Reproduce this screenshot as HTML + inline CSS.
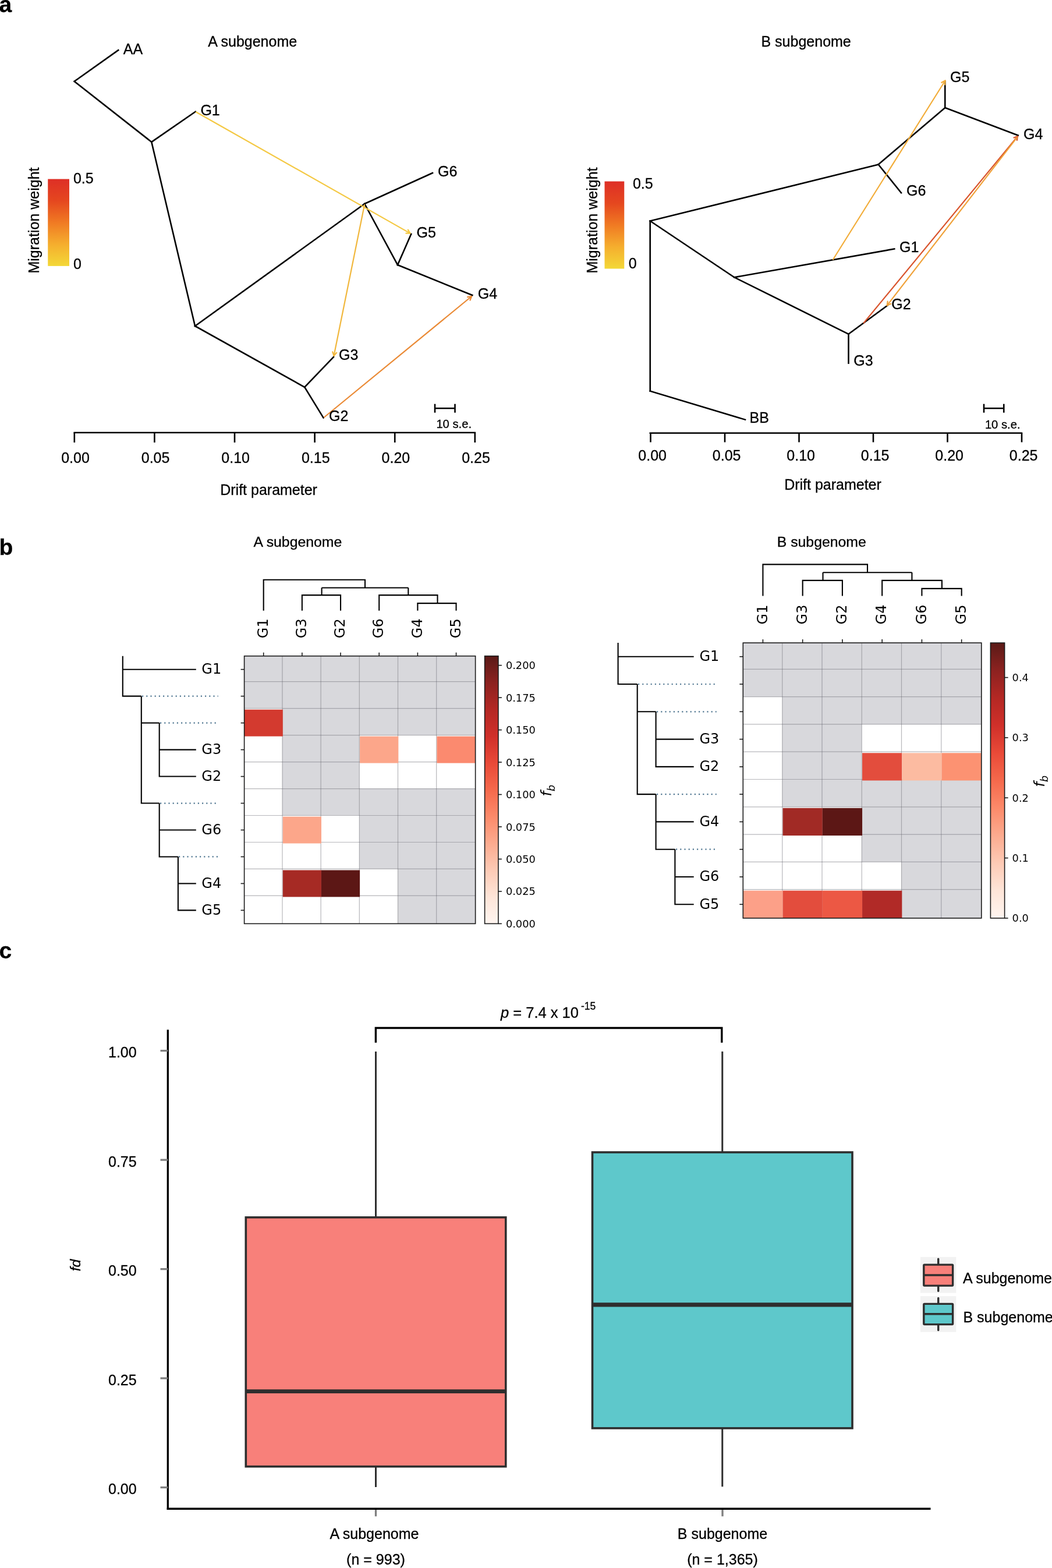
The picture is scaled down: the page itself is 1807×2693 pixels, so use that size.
<!DOCTYPE html><html><head><meta charset="utf-8"><title>Figure</title><style>html,body{margin:0;padding:0;background:#fff;overflow:hidden;}svg{display:block;}</style></head><body>
<svg width="1807" height="2693" viewBox="0 0 1807 2693">
<defs><linearGradient id="mig" x1="0" y1="1" x2="0" y2="0"><stop offset="0" stop-color="#F3D837"/><stop offset="0.25" stop-color="#F5AE2E"/><stop offset="0.5" stop-color="#F07A23"/><stop offset="0.75" stop-color="#E5471F"/><stop offset="1" stop-color="#DE2F26"/></linearGradient><linearGradient id="reds" x1="0" y1="1" x2="0" y2="0"><stop offset="0" stop-color="#fff5f0"/><stop offset="0.1" stop-color="#fee5d8"/><stop offset="0.2" stop-color="#fdcab5"/><stop offset="0.3" stop-color="#fcab8f"/><stop offset="0.4" stop-color="#fc8a6a"/><stop offset="0.5" stop-color="#f5694c"/><stop offset="0.6" stop-color="#e94a38"/><stop offset="0.7" stop-color="#d0302a"/><stop offset="0.8" stop-color="#b42824"/><stop offset="0.9" stop-color="#8c2220"/><stop offset="1" stop-color="#5a1a17"/></linearGradient></defs>
<rect width="1807" height="2693" fill="#fff"/>
<text x="-1.50" y="20.80" style="font-family:'Liberation Sans',Arial,sans-serif;stroke:#000;stroke-width:0.3px;font-size:39px;font-weight:bold" text-anchor="start" >a</text>
<text x="-1.50" y="953.30" style="font-family:'Liberation Sans',Arial,sans-serif;stroke:#000;stroke-width:0.3px;font-size:39px;font-weight:bold" text-anchor="start" >b</text>
<text x="-1.50" y="1646.20" style="font-family:'Liberation Sans',Arial,sans-serif;stroke:#000;stroke-width:0.3px;font-size:39px;font-weight:bold" text-anchor="start" >c</text>
<line x1="127.70" y1="139.80" x2="203.20" y2="86.10" stroke="#000" stroke-width="2.6" stroke-linecap="square" />
<line x1="127.70" y1="139.80" x2="260.30" y2="243.90" stroke="#000" stroke-width="2.6" stroke-linecap="square" />
<line x1="260.30" y1="243.90" x2="335.80" y2="191.70" stroke="#000" stroke-width="2.6" stroke-linecap="square" />
<line x1="260.30" y1="243.90" x2="335.00" y2="560.00" stroke="#000" stroke-width="2.6" stroke-linecap="square" />
<line x1="335.00" y1="560.00" x2="626.25" y2="350.00" stroke="#000" stroke-width="2.6" stroke-linecap="square" />
<line x1="626.25" y1="350.00" x2="743.00" y2="297.00" stroke="#000" stroke-width="2.6" stroke-linecap="square" />
<line x1="626.25" y1="350.00" x2="683.00" y2="455.00" stroke="#000" stroke-width="2.6" stroke-linecap="square" />
<line x1="683.00" y1="455.00" x2="706.25" y2="402.00" stroke="#000" stroke-width="2.6" stroke-linecap="square" />
<line x1="683.00" y1="455.00" x2="811.25" y2="507.00" stroke="#000" stroke-width="2.6" stroke-linecap="square" />
<line x1="335.00" y1="560.00" x2="523.25" y2="665.00" stroke="#000" stroke-width="2.6" stroke-linecap="square" />
<line x1="523.25" y1="665.00" x2="573.00" y2="613.00" stroke="#000" stroke-width="2.6" stroke-linecap="square" />
<line x1="523.25" y1="665.00" x2="555.50" y2="717.50" stroke="#000" stroke-width="2.6" stroke-linecap="square" />
<line x1="337.00" y1="192.50" x2="704.40" y2="400.60" stroke="#F4C842" stroke-width="2.2" stroke-linecap="round" />
<line x1="704.40" y1="400.60" x2="700.85" y2="394.57" stroke="#F4C842" stroke-width="2.2" stroke-linecap="round" />
<line x1="704.40" y1="400.60" x2="697.40" y2="400.66" stroke="#F4C842" stroke-width="2.2" stroke-linecap="round" />
<line x1="626.00" y1="352.00" x2="573.50" y2="611.00" stroke="#F1B73C" stroke-width="2.2" stroke-linecap="round" />
<line x1="573.50" y1="611.00" x2="578.13" y2="605.75" stroke="#F1B73C" stroke-width="2.2" stroke-linecap="round" />
<line x1="573.50" y1="611.00" x2="571.27" y2="604.36" stroke="#F1B73C" stroke-width="2.2" stroke-linecap="round" />
<line x1="557.00" y1="716.50" x2="810.00" y2="509.00" stroke="#EA8A35" stroke-width="2.2" stroke-linecap="round" />
<line x1="810.00" y1="509.00" x2="803.09" y2="510.14" stroke="#EA8A35" stroke-width="2.2" stroke-linecap="round" />
<line x1="810.00" y1="509.00" x2="807.53" y2="515.55" stroke="#EA8A35" stroke-width="2.2" stroke-linecap="round" />
<text x="211.80" y="93.30" style="font-family:'Liberation Sans',Arial,sans-serif;stroke:#000;stroke-width:0.3px;font-size:25px;" text-anchor="start" >AA</text>
<text x="357.25" y="79.75" style="font-family:'Liberation Sans',Arial,sans-serif;stroke:#000;stroke-width:0.3px;font-size:25px;" text-anchor="start" >A subgenome</text>
<text x="344.40" y="198.00" style="font-family:'Liberation Sans',Arial,sans-serif;stroke:#000;stroke-width:0.3px;font-size:25px;" text-anchor="start" >G1</text>
<text x="752.00" y="302.50" style="font-family:'Liberation Sans',Arial,sans-serif;stroke:#000;stroke-width:0.3px;font-size:25px;" text-anchor="start" >G6</text>
<text x="715.50" y="407.50" style="font-family:'Liberation Sans',Arial,sans-serif;stroke:#000;stroke-width:0.3px;font-size:25px;" text-anchor="start" >G5</text>
<text x="820.75" y="513.00" style="font-family:'Liberation Sans',Arial,sans-serif;stroke:#000;stroke-width:0.3px;font-size:25px;" text-anchor="start" >G4</text>
<text x="582.00" y="618.00" style="font-family:'Liberation Sans',Arial,sans-serif;stroke:#000;stroke-width:0.3px;font-size:25px;" text-anchor="start" >G3</text>
<text x="565.00" y="723.25" style="font-family:'Liberation Sans',Arial,sans-serif;stroke:#000;stroke-width:0.3px;font-size:25px;" text-anchor="start" >G2</text>
<rect x="82.25" y="307.50" width="36.75" height="149.40" fill="url(#mig)" />
<text x="125.90" y="315.00" style="font-family:'Liberation Sans',Arial,sans-serif;stroke:#000;stroke-width:0.3px;font-size:25px;" text-anchor="start" >0.5</text>
<text x="125.90" y="461.90" style="font-family:'Liberation Sans',Arial,sans-serif;stroke:#000;stroke-width:0.3px;font-size:25px;" text-anchor="start" >0</text>
<text transform="translate(66.8,378.5) rotate(-90)" style="font-family:'Liberation Sans',Arial,sans-serif;stroke:#000;stroke-width:0.3px;font-size:25px" text-anchor="middle">Migration weight</text>
<line x1="126.50" y1="743.00" x2="817.10" y2="743.00" stroke="#000" stroke-width="2.6" stroke-linecap="butt" />
<line x1="127.80" y1="743.00" x2="127.80" y2="760.00" stroke="#000" stroke-width="2.6" stroke-linecap="butt" />
<text x="129.50" y="795.00" style="font-family:'Liberation Sans',Arial,sans-serif;stroke:#000;stroke-width:0.3px;font-size:25px;" text-anchor="middle" >0.00</text>
<line x1="265.40" y1="743.00" x2="265.40" y2="760.00" stroke="#000" stroke-width="2.6" stroke-linecap="butt" />
<text x="267.10" y="795.00" style="font-family:'Liberation Sans',Arial,sans-serif;stroke:#000;stroke-width:0.3px;font-size:25px;" text-anchor="middle" >0.05</text>
<line x1="403.00" y1="743.00" x2="403.00" y2="760.00" stroke="#000" stroke-width="2.6" stroke-linecap="butt" />
<text x="404.70" y="795.00" style="font-family:'Liberation Sans',Arial,sans-serif;stroke:#000;stroke-width:0.3px;font-size:25px;" text-anchor="middle" >0.10</text>
<line x1="540.60" y1="743.00" x2="540.60" y2="760.00" stroke="#000" stroke-width="2.6" stroke-linecap="butt" />
<text x="542.30" y="795.00" style="font-family:'Liberation Sans',Arial,sans-serif;stroke:#000;stroke-width:0.3px;font-size:25px;" text-anchor="middle" >0.15</text>
<line x1="678.20" y1="743.00" x2="678.20" y2="760.00" stroke="#000" stroke-width="2.6" stroke-linecap="butt" />
<text x="679.90" y="795.00" style="font-family:'Liberation Sans',Arial,sans-serif;stroke:#000;stroke-width:0.3px;font-size:25px;" text-anchor="middle" >0.20</text>
<line x1="815.80" y1="743.00" x2="815.80" y2="760.00" stroke="#000" stroke-width="2.6" stroke-linecap="butt" />
<text x="817.50" y="795.00" style="font-family:'Liberation Sans',Arial,sans-serif;stroke:#000;stroke-width:0.3px;font-size:25px;" text-anchor="middle" >0.25</text>
<text x="461.60" y="850.00" style="font-family:'Liberation Sans',Arial,sans-serif;stroke:#000;stroke-width:0.3px;font-size:25px;" text-anchor="middle" >Drift parameter</text>
<line x1="747.00" y1="701.25" x2="781.50" y2="701.25" stroke="#000" stroke-width="2.6" stroke-linecap="butt" />
<line x1="747.00" y1="693.75" x2="747.00" y2="708.75" stroke="#000" stroke-width="2.6" stroke-linecap="butt" />
<line x1="781.50" y1="693.75" x2="781.50" y2="708.75" stroke="#000" stroke-width="2.6" stroke-linecap="butt" />
<text x="779.70" y="735.00" style="font-family:'Liberation Sans',Arial,sans-serif;stroke:#000;stroke-width:0.3px;font-size:20.2px;" text-anchor="middle" >10 s.e.</text>
<line x1="1116.70" y1="379.50" x2="1116.75" y2="671.75" stroke="#000" stroke-width="2.6" stroke-linecap="square" />
<line x1="1116.75" y1="671.75" x2="1280.00" y2="720.75" stroke="#000" stroke-width="2.6" stroke-linecap="square" />
<line x1="1116.70" y1="379.50" x2="1508.75" y2="282.50" stroke="#000" stroke-width="2.6" stroke-linecap="square" />
<line x1="1508.75" y1="282.50" x2="1548.00" y2="331.25" stroke="#000" stroke-width="2.6" stroke-linecap="square" />
<line x1="1508.75" y1="282.50" x2="1623.25" y2="185.00" stroke="#000" stroke-width="2.6" stroke-linecap="square" />
<line x1="1623.25" y1="185.00" x2="1623.25" y2="140.00" stroke="#000" stroke-width="2.6" stroke-linecap="square" />
<line x1="1623.25" y1="185.00" x2="1748.75" y2="232.50" stroke="#000" stroke-width="2.6" stroke-linecap="square" />
<line x1="1116.70" y1="379.50" x2="1261.25" y2="476.25" stroke="#000" stroke-width="2.6" stroke-linecap="square" />
<line x1="1261.25" y1="476.25" x2="1536.25" y2="427.50" stroke="#000" stroke-width="2.6" stroke-linecap="square" />
<line x1="1261.25" y1="476.25" x2="1457.50" y2="573.75" stroke="#000" stroke-width="2.6" stroke-linecap="square" />
<line x1="1457.50" y1="573.75" x2="1457.50" y2="623.75" stroke="#000" stroke-width="2.6" stroke-linecap="square" />
<line x1="1457.50" y1="573.75" x2="1524.50" y2="524.50" stroke="#000" stroke-width="2.6" stroke-linecap="square" />
<line x1="1431.00" y1="445.50" x2="1623.50" y2="138.50" stroke="#F2AD3A" stroke-width="2.2" stroke-linecap="round" />
<line x1="1623.50" y1="138.50" x2="1617.31" y2="141.78" stroke="#F2AD3A" stroke-width="2.2" stroke-linecap="round" />
<line x1="1623.50" y1="138.50" x2="1623.24" y2="145.50" stroke="#F2AD3A" stroke-width="2.2" stroke-linecap="round" />
<line x1="1483.75" y1="554.50" x2="1748.00" y2="234.00" stroke="#D9552E" stroke-width="2.2" stroke-linecap="round" />
<line x1="1748.00" y1="234.00" x2="1741.44" y2="236.45" stroke="#D9552E" stroke-width="2.2" stroke-linecap="round" />
<line x1="1748.00" y1="234.00" x2="1746.84" y2="240.90" stroke="#D9552E" stroke-width="2.2" stroke-linecap="round" />
<line x1="1747.00" y1="236.00" x2="1523.75" y2="524.50" stroke="#F0A23A" stroke-width="2.2" stroke-linecap="round" />
<line x1="1523.75" y1="524.50" x2="1530.23" y2="521.85" stroke="#F0A23A" stroke-width="2.2" stroke-linecap="round" />
<line x1="1523.75" y1="524.50" x2="1524.69" y2="517.56" stroke="#F0A23A" stroke-width="2.2" stroke-linecap="round" />
<text x="1307.50" y="79.75" style="font-family:'Liberation Sans',Arial,sans-serif;stroke:#000;stroke-width:0.3px;font-size:25px;" text-anchor="start" >B subgenome</text>
<text x="1632.00" y="140.75" style="font-family:'Liberation Sans',Arial,sans-serif;stroke:#000;stroke-width:0.3px;font-size:25px;" text-anchor="start" >G5</text>
<text x="1758.00" y="238.75" style="font-family:'Liberation Sans',Arial,sans-serif;stroke:#000;stroke-width:0.3px;font-size:25px;" text-anchor="start" >G4</text>
<text x="1557.00" y="335.50" style="font-family:'Liberation Sans',Arial,sans-serif;stroke:#000;stroke-width:0.3px;font-size:25px;" text-anchor="start" >G6</text>
<text x="1545.00" y="433.25" style="font-family:'Liberation Sans',Arial,sans-serif;stroke:#000;stroke-width:0.3px;font-size:25px;" text-anchor="start" >G1</text>
<text x="1531.25" y="530.50" style="font-family:'Liberation Sans',Arial,sans-serif;stroke:#000;stroke-width:0.3px;font-size:25px;" text-anchor="start" >G2</text>
<text x="1466.25" y="628.00" style="font-family:'Liberation Sans',Arial,sans-serif;stroke:#000;stroke-width:0.3px;font-size:25px;" text-anchor="start" >G3</text>
<text x="1287.50" y="725.75" style="font-family:'Liberation Sans',Arial,sans-serif;stroke:#000;stroke-width:0.3px;font-size:25px;" text-anchor="start" >BB</text>
<rect x="1038.50" y="311.50" width="33.75" height="150.00" fill="url(#mig)" />
<text x="1086.90" y="324.40" style="font-family:'Liberation Sans',Arial,sans-serif;stroke:#000;stroke-width:0.3px;font-size:25px;" text-anchor="start" >0.5</text>
<text x="1079.75" y="460.60" style="font-family:'Liberation Sans',Arial,sans-serif;stroke:#000;stroke-width:0.3px;font-size:25px;" text-anchor="start" >0</text>
<text transform="translate(1025.6,378.5) rotate(-90)" style="font-family:'Liberation Sans',Arial,sans-serif;stroke:#000;stroke-width:0.3px;font-size:25px" text-anchor="middle">Migration weight</text>
<line x1="1115.50" y1="743.75" x2="1756.20" y2="743.75" stroke="#000" stroke-width="2.6" stroke-linecap="butt" />
<line x1="1117.50" y1="743.75" x2="1117.50" y2="759.50" stroke="#000" stroke-width="2.6" stroke-linecap="butt" />
<text x="1120.70" y="791.25" style="font-family:'Liberation Sans',Arial,sans-serif;stroke:#000;stroke-width:0.3px;font-size:25px;" text-anchor="middle" >0.00</text>
<line x1="1245.00" y1="743.75" x2="1245.00" y2="759.50" stroke="#000" stroke-width="2.6" stroke-linecap="butt" />
<text x="1248.20" y="791.25" style="font-family:'Liberation Sans',Arial,sans-serif;stroke:#000;stroke-width:0.3px;font-size:25px;" text-anchor="middle" >0.05</text>
<line x1="1372.50" y1="743.75" x2="1372.50" y2="759.50" stroke="#000" stroke-width="2.6" stroke-linecap="butt" />
<text x="1375.70" y="791.25" style="font-family:'Liberation Sans',Arial,sans-serif;stroke:#000;stroke-width:0.3px;font-size:25px;" text-anchor="middle" >0.10</text>
<line x1="1500.00" y1="743.75" x2="1500.00" y2="759.50" stroke="#000" stroke-width="2.6" stroke-linecap="butt" />
<text x="1503.20" y="791.25" style="font-family:'Liberation Sans',Arial,sans-serif;stroke:#000;stroke-width:0.3px;font-size:25px;" text-anchor="middle" >0.15</text>
<line x1="1627.50" y1="743.75" x2="1627.50" y2="759.50" stroke="#000" stroke-width="2.6" stroke-linecap="butt" />
<text x="1630.70" y="791.25" style="font-family:'Liberation Sans',Arial,sans-serif;stroke:#000;stroke-width:0.3px;font-size:25px;" text-anchor="middle" >0.20</text>
<line x1="1755.00" y1="743.75" x2="1755.00" y2="759.50" stroke="#000" stroke-width="2.6" stroke-linecap="butt" />
<text x="1758.20" y="791.25" style="font-family:'Liberation Sans',Arial,sans-serif;stroke:#000;stroke-width:0.3px;font-size:25px;" text-anchor="middle" >0.25</text>
<text x="1430.50" y="841.25" style="font-family:'Liberation Sans',Arial,sans-serif;stroke:#000;stroke-width:0.3px;font-size:25px;" text-anchor="middle" >Drift parameter</text>
<line x1="1690.00" y1="701.25" x2="1724.25" y2="701.25" stroke="#000" stroke-width="2.6" stroke-linecap="butt" />
<line x1="1690.00" y1="693.75" x2="1690.00" y2="708.75" stroke="#000" stroke-width="2.6" stroke-linecap="butt" />
<line x1="1724.25" y1="693.75" x2="1724.25" y2="708.75" stroke="#000" stroke-width="2.6" stroke-linecap="butt" />
<text x="1722.20" y="735.50" style="font-family:'Liberation Sans',Arial,sans-serif;stroke:#000;stroke-width:0.3px;font-size:20.2px;" text-anchor="middle" >10 s.e.</text>
<rect x="419.60" y="1126.70" width="65.37" height="43.97" fill="#D8D8DC" />
<rect x="484.97" y="1126.70" width="66.17" height="43.97" fill="#D8D8DC" />
<rect x="551.14" y="1126.70" width="66.17" height="43.97" fill="#D8D8DC" />
<rect x="617.31" y="1126.70" width="66.17" height="43.97" fill="#D8D8DC" />
<rect x="683.48" y="1126.70" width="66.17" height="43.97" fill="#D8D8DC" />
<rect x="749.65" y="1126.70" width="66.97" height="43.97" fill="#D8D8DC" />
<rect x="419.60" y="1170.67" width="65.37" height="45.97" fill="#D8D8DC" />
<rect x="484.97" y="1170.67" width="66.17" height="45.97" fill="#D8D8DC" />
<rect x="551.14" y="1170.67" width="66.17" height="45.97" fill="#D8D8DC" />
<rect x="617.31" y="1170.67" width="66.17" height="45.97" fill="#D8D8DC" />
<rect x="683.48" y="1170.67" width="66.17" height="45.97" fill="#D8D8DC" />
<rect x="749.65" y="1170.67" width="66.97" height="45.97" fill="#D8D8DC" />
<rect x="419.60" y="1216.64" width="65.37" height="45.97" fill="#FFFFFF" />
<rect x="484.97" y="1216.64" width="66.17" height="45.97" fill="#D8D8DC" />
<rect x="551.14" y="1216.64" width="66.17" height="45.97" fill="#D8D8DC" />
<rect x="617.31" y="1216.64" width="66.17" height="45.97" fill="#D8D8DC" />
<rect x="683.48" y="1216.64" width="66.17" height="45.97" fill="#D8D8DC" />
<rect x="749.65" y="1216.64" width="66.97" height="45.97" fill="#D8D8DC" />
<rect x="419.60" y="1262.61" width="65.37" height="45.97" fill="#FFFFFF" />
<rect x="484.97" y="1262.61" width="66.17" height="45.97" fill="#D8D8DC" />
<rect x="551.14" y="1262.61" width="66.17" height="45.97" fill="#D8D8DC" />
<rect x="617.31" y="1262.61" width="66.17" height="45.97" fill="#FFFFFF" />
<rect x="683.48" y="1262.61" width="66.17" height="45.97" fill="#FFFFFF" />
<rect x="749.65" y="1262.61" width="66.97" height="45.97" fill="#FFFFFF" />
<rect x="419.60" y="1308.58" width="65.37" height="45.97" fill="#FFFFFF" />
<rect x="484.97" y="1308.58" width="66.17" height="45.97" fill="#D8D8DC" />
<rect x="551.14" y="1308.58" width="66.17" height="45.97" fill="#D8D8DC" />
<rect x="617.31" y="1308.58" width="66.17" height="45.97" fill="#FFFFFF" />
<rect x="683.48" y="1308.58" width="66.17" height="45.97" fill="#FFFFFF" />
<rect x="749.65" y="1308.58" width="66.97" height="45.97" fill="#FFFFFF" />
<rect x="419.60" y="1354.55" width="65.37" height="45.97" fill="#FFFFFF" />
<rect x="484.97" y="1354.55" width="66.17" height="45.97" fill="#D8D8DC" />
<rect x="551.14" y="1354.55" width="66.17" height="45.97" fill="#D8D8DC" />
<rect x="617.31" y="1354.55" width="66.17" height="45.97" fill="#D8D8DC" />
<rect x="683.48" y="1354.55" width="66.17" height="45.97" fill="#D8D8DC" />
<rect x="749.65" y="1354.55" width="66.97" height="45.97" fill="#D8D8DC" />
<rect x="419.60" y="1400.52" width="65.37" height="45.97" fill="#FFFFFF" />
<rect x="484.97" y="1400.52" width="66.17" height="45.97" fill="#FFFFFF" />
<rect x="551.14" y="1400.52" width="66.17" height="45.97" fill="#FFFFFF" />
<rect x="617.31" y="1400.52" width="66.17" height="45.97" fill="#D8D8DC" />
<rect x="683.48" y="1400.52" width="66.17" height="45.97" fill="#D8D8DC" />
<rect x="749.65" y="1400.52" width="66.97" height="45.97" fill="#D8D8DC" />
<rect x="419.60" y="1446.49" width="65.37" height="45.97" fill="#FFFFFF" />
<rect x="484.97" y="1446.49" width="66.17" height="45.97" fill="#FFFFFF" />
<rect x="551.14" y="1446.49" width="66.17" height="45.97" fill="#FFFFFF" />
<rect x="617.31" y="1446.49" width="66.17" height="45.97" fill="#D8D8DC" />
<rect x="683.48" y="1446.49" width="66.17" height="45.97" fill="#D8D8DC" />
<rect x="749.65" y="1446.49" width="66.97" height="45.97" fill="#D8D8DC" />
<rect x="419.60" y="1492.46" width="65.37" height="45.97" fill="#FFFFFF" />
<rect x="484.97" y="1492.46" width="66.17" height="45.97" fill="#FFFFFF" />
<rect x="551.14" y="1492.46" width="66.17" height="45.97" fill="#FFFFFF" />
<rect x="617.31" y="1492.46" width="66.17" height="45.97" fill="#FFFFFF" />
<rect x="683.48" y="1492.46" width="66.17" height="45.97" fill="#D8D8DC" />
<rect x="749.65" y="1492.46" width="66.97" height="45.97" fill="#D8D8DC" />
<rect x="419.60" y="1538.43" width="65.37" height="47.97" fill="#FFFFFF" />
<rect x="484.97" y="1538.43" width="66.17" height="47.97" fill="#FFFFFF" />
<rect x="551.14" y="1538.43" width="66.17" height="47.97" fill="#FFFFFF" />
<rect x="617.31" y="1538.43" width="66.17" height="47.97" fill="#FFFFFF" />
<rect x="683.48" y="1538.43" width="66.17" height="47.97" fill="#D8D8DC" />
<rect x="749.65" y="1538.43" width="66.97" height="47.97" fill="#D8D8DC" />
<line x1="484.97" y1="1126.70" x2="484.97" y2="1586.40" stroke="rgba(95,95,105,0.45)" stroke-width="1.2" stroke-linecap="butt" />
<line x1="551.14" y1="1126.70" x2="551.14" y2="1586.40" stroke="rgba(95,95,105,0.45)" stroke-width="1.2" stroke-linecap="butt" />
<line x1="617.31" y1="1126.70" x2="617.31" y2="1586.40" stroke="rgba(95,95,105,0.45)" stroke-width="1.2" stroke-linecap="butt" />
<line x1="683.48" y1="1126.70" x2="683.48" y2="1586.40" stroke="rgba(95,95,105,0.45)" stroke-width="1.2" stroke-linecap="butt" />
<line x1="749.65" y1="1126.70" x2="749.65" y2="1586.40" stroke="rgba(95,95,105,0.45)" stroke-width="1.2" stroke-linecap="butt" />
<line x1="419.60" y1="1170.67" x2="816.62" y2="1170.67" stroke="rgba(95,95,105,0.45)" stroke-width="1.2" stroke-linecap="butt" />
<line x1="419.60" y1="1216.64" x2="816.62" y2="1216.64" stroke="rgba(95,95,105,0.45)" stroke-width="1.2" stroke-linecap="butt" />
<line x1="419.60" y1="1262.61" x2="816.62" y2="1262.61" stroke="rgba(95,95,105,0.45)" stroke-width="1.2" stroke-linecap="butt" />
<line x1="419.60" y1="1308.58" x2="816.62" y2="1308.58" stroke="rgba(95,95,105,0.45)" stroke-width="1.2" stroke-linecap="butt" />
<line x1="419.60" y1="1354.55" x2="816.62" y2="1354.55" stroke="rgba(95,95,105,0.45)" stroke-width="1.2" stroke-linecap="butt" />
<line x1="419.60" y1="1400.52" x2="816.62" y2="1400.52" stroke="rgba(95,95,105,0.45)" stroke-width="1.2" stroke-linecap="butt" />
<line x1="419.60" y1="1446.49" x2="816.62" y2="1446.49" stroke="rgba(95,95,105,0.45)" stroke-width="1.2" stroke-linecap="butt" />
<line x1="419.60" y1="1492.46" x2="816.62" y2="1492.46" stroke="rgba(95,95,105,0.45)" stroke-width="1.2" stroke-linecap="butt" />
<line x1="419.60" y1="1538.43" x2="816.62" y2="1538.43" stroke="rgba(95,95,105,0.45)" stroke-width="1.2" stroke-linecap="butt" />
<rect x="419.60" y="1218.64" width="66.17" height="45.97" fill="#D33A2F" />
<rect x="618.11" y="1264.61" width="66.17" height="45.97" fill="#FCA68A" />
<rect x="750.45" y="1264.61" width="66.17" height="45.97" fill="#FB8A6F" />
<rect x="485.77" y="1402.52" width="66.17" height="45.97" fill="#FCA68A" />
<rect x="485.77" y="1494.46" width="66.17" height="45.97" fill="#A62A24" />
<rect x="551.94" y="1494.46" width="66.17" height="45.97" fill="#5C1715" />
<rect x="419.60" y="1126.70" width="397.02" height="459.70" fill="none" stroke="#1a1a1a" stroke-width="1.6"/>
<line x1="413.60" y1="1149.68" x2="419.60" y2="1149.68" stroke="#1a1a1a" stroke-width="1.6" stroke-linecap="butt" />
<line x1="413.60" y1="1195.65" x2="419.60" y2="1195.65" stroke="#1a1a1a" stroke-width="1.6" stroke-linecap="butt" />
<line x1="413.60" y1="1241.62" x2="419.60" y2="1241.62" stroke="#1a1a1a" stroke-width="1.6" stroke-linecap="butt" />
<line x1="413.60" y1="1287.60" x2="419.60" y2="1287.60" stroke="#1a1a1a" stroke-width="1.6" stroke-linecap="butt" />
<line x1="413.60" y1="1333.57" x2="419.60" y2="1333.57" stroke="#1a1a1a" stroke-width="1.6" stroke-linecap="butt" />
<line x1="413.60" y1="1379.54" x2="419.60" y2="1379.54" stroke="#1a1a1a" stroke-width="1.6" stroke-linecap="butt" />
<line x1="413.60" y1="1425.51" x2="419.60" y2="1425.51" stroke="#1a1a1a" stroke-width="1.6" stroke-linecap="butt" />
<line x1="413.60" y1="1471.47" x2="419.60" y2="1471.47" stroke="#1a1a1a" stroke-width="1.6" stroke-linecap="butt" />
<line x1="413.60" y1="1517.45" x2="419.60" y2="1517.45" stroke="#1a1a1a" stroke-width="1.6" stroke-linecap="butt" />
<line x1="413.60" y1="1563.41" x2="419.60" y2="1563.41" stroke="#1a1a1a" stroke-width="1.6" stroke-linecap="butt" />
<line x1="452.69" y1="1120.70" x2="452.69" y2="1126.70" stroke="#1a1a1a" stroke-width="1.6" stroke-linecap="butt" />
<line x1="518.86" y1="1120.70" x2="518.86" y2="1126.70" stroke="#1a1a1a" stroke-width="1.6" stroke-linecap="butt" />
<line x1="585.03" y1="1120.70" x2="585.03" y2="1126.70" stroke="#1a1a1a" stroke-width="1.6" stroke-linecap="butt" />
<line x1="651.20" y1="1120.70" x2="651.20" y2="1126.70" stroke="#1a1a1a" stroke-width="1.6" stroke-linecap="butt" />
<line x1="717.37" y1="1120.70" x2="717.37" y2="1126.70" stroke="#1a1a1a" stroke-width="1.6" stroke-linecap="butt" />
<line x1="783.54" y1="1120.70" x2="783.54" y2="1126.70" stroke="#1a1a1a" stroke-width="1.6" stroke-linecap="butt" />
<rect x="832.60" y="1126.70" width="23.30" height="459.70" fill="url(#reds)" />
<rect x="832.60" y="1126.70" width="23.30" height="459.70" fill="none" stroke="#1a1a1a" stroke-width="1.6"/>
<line x1="855.90" y1="1586.40" x2="861.90" y2="1586.40" stroke="#1a1a1a" stroke-width="1.6" stroke-linecap="butt" />
<text x="868.90" y="1592.90" style="font-family:'DejaVu Sans',sans-serif;font-size:17.8px;" text-anchor="start" >0.000</text>
<line x1="855.90" y1="1530.93" x2="861.90" y2="1530.93" stroke="#1a1a1a" stroke-width="1.6" stroke-linecap="butt" />
<text x="868.90" y="1537.43" style="font-family:'DejaVu Sans',sans-serif;font-size:17.8px;" text-anchor="start" >0.025</text>
<line x1="855.90" y1="1475.47" x2="861.90" y2="1475.47" stroke="#1a1a1a" stroke-width="1.6" stroke-linecap="butt" />
<text x="868.90" y="1481.97" style="font-family:'DejaVu Sans',sans-serif;font-size:17.8px;" text-anchor="start" >0.050</text>
<line x1="855.90" y1="1420.00" x2="861.90" y2="1420.00" stroke="#1a1a1a" stroke-width="1.6" stroke-linecap="butt" />
<text x="868.90" y="1426.50" style="font-family:'DejaVu Sans',sans-serif;font-size:17.8px;" text-anchor="start" >0.075</text>
<line x1="855.90" y1="1364.54" x2="861.90" y2="1364.54" stroke="#1a1a1a" stroke-width="1.6" stroke-linecap="butt" />
<text x="868.90" y="1371.04" style="font-family:'DejaVu Sans',sans-serif;font-size:17.8px;" text-anchor="start" >0.100</text>
<line x1="855.90" y1="1309.07" x2="861.90" y2="1309.07" stroke="#1a1a1a" stroke-width="1.6" stroke-linecap="butt" />
<text x="868.90" y="1315.57" style="font-family:'DejaVu Sans',sans-serif;font-size:17.8px;" text-anchor="start" >0.125</text>
<line x1="855.90" y1="1253.61" x2="861.90" y2="1253.61" stroke="#1a1a1a" stroke-width="1.6" stroke-linecap="butt" />
<text x="868.90" y="1260.11" style="font-family:'DejaVu Sans',sans-serif;font-size:17.8px;" text-anchor="start" >0.150</text>
<line x1="855.90" y1="1198.14" x2="861.90" y2="1198.14" stroke="#1a1a1a" stroke-width="1.6" stroke-linecap="butt" />
<text x="868.90" y="1204.64" style="font-family:'DejaVu Sans',sans-serif;font-size:17.8px;" text-anchor="start" >0.175</text>
<line x1="855.90" y1="1142.67" x2="861.90" y2="1142.67" stroke="#1a1a1a" stroke-width="1.6" stroke-linecap="butt" />
<text x="868.90" y="1149.17" style="font-family:'DejaVu Sans',sans-serif;font-size:17.8px;" text-anchor="start" >0.200</text>
<text transform="translate(946.50,1357.85) rotate(-90)" style="font-family:'DejaVu Sans',sans-serif;font-size:25px;font-style:italic" text-anchor="middle">f<tspan style="font-size:17.5px" dy="6">b</tspan></text>
<text x="435.60" y="938.75" style="font-family:'Liberation Sans',Arial,sans-serif;stroke:#000;stroke-width:0.3px;font-size:24.8px;" text-anchor="start" >A subgenome</text>
<text x="346.30" y="1157.09" style="font-family:'DejaVu Sans',sans-serif;font-size:24px;" text-anchor="start" >G1</text>
<text x="346.30" y="1295.00" style="font-family:'DejaVu Sans',sans-serif;font-size:24px;" text-anchor="start" >G3</text>
<text x="346.30" y="1340.97" style="font-family:'DejaVu Sans',sans-serif;font-size:24px;" text-anchor="start" >G2</text>
<text x="346.30" y="1432.91" style="font-family:'DejaVu Sans',sans-serif;font-size:24px;" text-anchor="start" >G6</text>
<text x="346.30" y="1524.85" style="font-family:'DejaVu Sans',sans-serif;font-size:24px;" text-anchor="start" >G4</text>
<text x="346.30" y="1570.82" style="font-family:'DejaVu Sans',sans-serif;font-size:24px;" text-anchor="start" >G5</text>
<text transform="translate(459.88,1096.20) rotate(-90)" style="font-family:'DejaVu Sans',sans-serif;font-size:24px">G1</text>
<text transform="translate(526.06,1096.20) rotate(-90)" style="font-family:'DejaVu Sans',sans-serif;font-size:24px">G3</text>
<text transform="translate(592.23,1096.20) rotate(-90)" style="font-family:'DejaVu Sans',sans-serif;font-size:24px">G2</text>
<text transform="translate(658.40,1096.20) rotate(-90)" style="font-family:'DejaVu Sans',sans-serif;font-size:24px">G6</text>
<text transform="translate(724.57,1096.20) rotate(-90)" style="font-family:'DejaVu Sans',sans-serif;font-size:24px">G4</text>
<text transform="translate(790.74,1096.20) rotate(-90)" style="font-family:'DejaVu Sans',sans-serif;font-size:24px">G5</text>
<polyline points="210.80,1126.70 210.80,1195.65 242.80,1195.65" fill="none" stroke="#000" stroke-width="2.1" stroke-linejoin="miter" stroke-linecap="butt" />
<polyline points="210.80,1149.68 336.80,1149.68" fill="none" stroke="#000" stroke-width="2.1" stroke-linejoin="miter" stroke-linecap="butt" />
<polyline points="242.80,1195.65 242.80,1379.54 273.70,1379.54" fill="none" stroke="#000" stroke-width="2.1" stroke-linejoin="miter" stroke-linecap="butt" />
<polyline points="242.80,1241.62 273.70,1241.62" fill="none" stroke="#000" stroke-width="2.1" stroke-linejoin="miter" stroke-linecap="butt" />
<polyline points="273.70,1241.62 273.70,1333.57 336.80,1333.57" fill="none" stroke="#000" stroke-width="2.1" stroke-linejoin="miter" stroke-linecap="butt" />
<polyline points="273.70,1287.60 336.80,1287.60" fill="none" stroke="#000" stroke-width="2.1" stroke-linejoin="miter" stroke-linecap="butt" />
<polyline points="273.70,1379.54 273.70,1471.47 305.90,1471.47" fill="none" stroke="#000" stroke-width="2.1" stroke-linejoin="miter" stroke-linecap="butt" />
<polyline points="273.70,1425.51 336.80,1425.51" fill="none" stroke="#000" stroke-width="2.1" stroke-linejoin="miter" stroke-linecap="butt" />
<polyline points="305.90,1471.47 305.90,1563.41 336.80,1563.41" fill="none" stroke="#000" stroke-width="2.1" stroke-linejoin="miter" stroke-linecap="butt" />
<polyline points="305.90,1517.45 336.80,1517.45" fill="none" stroke="#000" stroke-width="2.1" stroke-linejoin="miter" stroke-linecap="butt" />
<line x1="244.00" y1="1195.65" x2="374.70" y2="1195.65" stroke="#4E7590" stroke-width="2.2" stroke-linecap="butt" stroke-dasharray="2.2 5"/>
<line x1="275.00" y1="1241.62" x2="374.70" y2="1241.62" stroke="#4E7590" stroke-width="2.2" stroke-linecap="butt" stroke-dasharray="2.2 5"/>
<line x1="275.00" y1="1379.54" x2="374.70" y2="1379.54" stroke="#4E7590" stroke-width="2.2" stroke-linecap="butt" stroke-dasharray="2.2 5"/>
<line x1="307.00" y1="1471.47" x2="374.00" y2="1471.47" stroke="#4E7590" stroke-width="2.2" stroke-linecap="butt" stroke-dasharray="2.2 5"/>
<polyline points="452.69,1048.75 452.69,995.70 627.00,995.70 627.00,1009.50" fill="none" stroke="#000" stroke-width="2.1" stroke-linejoin="miter" stroke-linecap="butt" />
<polyline points="552.60,1009.50 701.30,1009.50" fill="none" stroke="#000" stroke-width="2.1" stroke-linejoin="miter" stroke-linecap="butt" />
<polyline points="552.60,1009.50 552.60,1022.10" fill="none" stroke="#000" stroke-width="2.1" stroke-linejoin="miter" stroke-linecap="butt" />
<polyline points="518.86,1048.75 518.86,1022.10 585.03,1022.10 585.03,1048.75" fill="none" stroke="#000" stroke-width="2.1" stroke-linejoin="miter" stroke-linecap="butt" />
<polyline points="701.30,1009.50 701.30,1022.10" fill="none" stroke="#000" stroke-width="2.1" stroke-linejoin="miter" stroke-linecap="butt" />
<polyline points="651.20,1048.75 651.20,1022.10 751.50,1022.10 751.50,1036.10" fill="none" stroke="#000" stroke-width="2.1" stroke-linejoin="miter" stroke-linecap="butt" />
<polyline points="717.37,1048.75 717.37,1036.10 783.54,1036.10 783.54,1048.75" fill="none" stroke="#000" stroke-width="2.1" stroke-linejoin="miter" stroke-linecap="butt" />
<rect x="1276.30" y="1104.10" width="67.45" height="45.28" fill="#D8D8DC" />
<rect x="1343.75" y="1104.10" width="68.25" height="45.28" fill="#D8D8DC" />
<rect x="1412.00" y="1104.10" width="68.25" height="45.28" fill="#D8D8DC" />
<rect x="1480.25" y="1104.10" width="68.25" height="45.28" fill="#D8D8DC" />
<rect x="1548.50" y="1104.10" width="68.25" height="45.28" fill="#D8D8DC" />
<rect x="1616.75" y="1104.10" width="69.05" height="45.28" fill="#D8D8DC" />
<rect x="1276.30" y="1149.38" width="67.45" height="47.28" fill="#D8D8DC" />
<rect x="1343.75" y="1149.38" width="68.25" height="47.28" fill="#D8D8DC" />
<rect x="1412.00" y="1149.38" width="68.25" height="47.28" fill="#D8D8DC" />
<rect x="1480.25" y="1149.38" width="68.25" height="47.28" fill="#D8D8DC" />
<rect x="1548.50" y="1149.38" width="68.25" height="47.28" fill="#D8D8DC" />
<rect x="1616.75" y="1149.38" width="69.05" height="47.28" fill="#D8D8DC" />
<rect x="1276.30" y="1196.66" width="67.45" height="47.28" fill="#FFFFFF" />
<rect x="1343.75" y="1196.66" width="68.25" height="47.28" fill="#D8D8DC" />
<rect x="1412.00" y="1196.66" width="68.25" height="47.28" fill="#D8D8DC" />
<rect x="1480.25" y="1196.66" width="68.25" height="47.28" fill="#D8D8DC" />
<rect x="1548.50" y="1196.66" width="68.25" height="47.28" fill="#D8D8DC" />
<rect x="1616.75" y="1196.66" width="69.05" height="47.28" fill="#D8D8DC" />
<rect x="1276.30" y="1243.94" width="67.45" height="47.28" fill="#FFFFFF" />
<rect x="1343.75" y="1243.94" width="68.25" height="47.28" fill="#D8D8DC" />
<rect x="1412.00" y="1243.94" width="68.25" height="47.28" fill="#D8D8DC" />
<rect x="1480.25" y="1243.94" width="68.25" height="47.28" fill="#FFFFFF" />
<rect x="1548.50" y="1243.94" width="68.25" height="47.28" fill="#FFFFFF" />
<rect x="1616.75" y="1243.94" width="69.05" height="47.28" fill="#FFFFFF" />
<rect x="1276.30" y="1291.22" width="67.45" height="47.28" fill="#FFFFFF" />
<rect x="1343.75" y="1291.22" width="68.25" height="47.28" fill="#D8D8DC" />
<rect x="1412.00" y="1291.22" width="68.25" height="47.28" fill="#D8D8DC" />
<rect x="1480.25" y="1291.22" width="68.25" height="47.28" fill="#FFFFFF" />
<rect x="1548.50" y="1291.22" width="68.25" height="47.28" fill="#FFFFFF" />
<rect x="1616.75" y="1291.22" width="69.05" height="47.28" fill="#FFFFFF" />
<rect x="1276.30" y="1338.50" width="67.45" height="47.28" fill="#FFFFFF" />
<rect x="1343.75" y="1338.50" width="68.25" height="47.28" fill="#D8D8DC" />
<rect x="1412.00" y="1338.50" width="68.25" height="47.28" fill="#D8D8DC" />
<rect x="1480.25" y="1338.50" width="68.25" height="47.28" fill="#D8D8DC" />
<rect x="1548.50" y="1338.50" width="68.25" height="47.28" fill="#D8D8DC" />
<rect x="1616.75" y="1338.50" width="69.05" height="47.28" fill="#D8D8DC" />
<rect x="1276.30" y="1385.78" width="67.45" height="47.28" fill="#FFFFFF" />
<rect x="1343.75" y="1385.78" width="68.25" height="47.28" fill="#FFFFFF" />
<rect x="1412.00" y="1385.78" width="68.25" height="47.28" fill="#FFFFFF" />
<rect x="1480.25" y="1385.78" width="68.25" height="47.28" fill="#D8D8DC" />
<rect x="1548.50" y="1385.78" width="68.25" height="47.28" fill="#D8D8DC" />
<rect x="1616.75" y="1385.78" width="69.05" height="47.28" fill="#D8D8DC" />
<rect x="1276.30" y="1433.06" width="67.45" height="47.28" fill="#FFFFFF" />
<rect x="1343.75" y="1433.06" width="68.25" height="47.28" fill="#FFFFFF" />
<rect x="1412.00" y="1433.06" width="68.25" height="47.28" fill="#FFFFFF" />
<rect x="1480.25" y="1433.06" width="68.25" height="47.28" fill="#D8D8DC" />
<rect x="1548.50" y="1433.06" width="68.25" height="47.28" fill="#D8D8DC" />
<rect x="1616.75" y="1433.06" width="69.05" height="47.28" fill="#D8D8DC" />
<rect x="1276.30" y="1480.34" width="67.45" height="47.28" fill="#FFFFFF" />
<rect x="1343.75" y="1480.34" width="68.25" height="47.28" fill="#FFFFFF" />
<rect x="1412.00" y="1480.34" width="68.25" height="47.28" fill="#FFFFFF" />
<rect x="1480.25" y="1480.34" width="68.25" height="47.28" fill="#FFFFFF" />
<rect x="1548.50" y="1480.34" width="68.25" height="47.28" fill="#D8D8DC" />
<rect x="1616.75" y="1480.34" width="69.05" height="47.28" fill="#D8D8DC" />
<rect x="1276.30" y="1527.62" width="67.45" height="49.28" fill="#FFFFFF" />
<rect x="1343.75" y="1527.62" width="68.25" height="49.28" fill="#FFFFFF" />
<rect x="1412.00" y="1527.62" width="68.25" height="49.28" fill="#FFFFFF" />
<rect x="1480.25" y="1527.62" width="68.25" height="49.28" fill="#FFFFFF" />
<rect x="1548.50" y="1527.62" width="68.25" height="49.28" fill="#D8D8DC" />
<rect x="1616.75" y="1527.62" width="69.05" height="49.28" fill="#D8D8DC" />
<line x1="1343.75" y1="1104.10" x2="1343.75" y2="1576.90" stroke="rgba(95,95,105,0.45)" stroke-width="1.2" stroke-linecap="butt" />
<line x1="1412.00" y1="1104.10" x2="1412.00" y2="1576.90" stroke="rgba(95,95,105,0.45)" stroke-width="1.2" stroke-linecap="butt" />
<line x1="1480.25" y1="1104.10" x2="1480.25" y2="1576.90" stroke="rgba(95,95,105,0.45)" stroke-width="1.2" stroke-linecap="butt" />
<line x1="1548.50" y1="1104.10" x2="1548.50" y2="1576.90" stroke="rgba(95,95,105,0.45)" stroke-width="1.2" stroke-linecap="butt" />
<line x1="1616.75" y1="1104.10" x2="1616.75" y2="1576.90" stroke="rgba(95,95,105,0.45)" stroke-width="1.2" stroke-linecap="butt" />
<line x1="1276.30" y1="1149.38" x2="1685.80" y2="1149.38" stroke="rgba(95,95,105,0.45)" stroke-width="1.2" stroke-linecap="butt" />
<line x1="1276.30" y1="1196.66" x2="1685.80" y2="1196.66" stroke="rgba(95,95,105,0.45)" stroke-width="1.2" stroke-linecap="butt" />
<line x1="1276.30" y1="1243.94" x2="1685.80" y2="1243.94" stroke="rgba(95,95,105,0.45)" stroke-width="1.2" stroke-linecap="butt" />
<line x1="1276.30" y1="1291.22" x2="1685.80" y2="1291.22" stroke="rgba(95,95,105,0.45)" stroke-width="1.2" stroke-linecap="butt" />
<line x1="1276.30" y1="1338.50" x2="1685.80" y2="1338.50" stroke="rgba(95,95,105,0.45)" stroke-width="1.2" stroke-linecap="butt" />
<line x1="1276.30" y1="1385.78" x2="1685.80" y2="1385.78" stroke="rgba(95,95,105,0.45)" stroke-width="1.2" stroke-linecap="butt" />
<line x1="1276.30" y1="1433.06" x2="1685.80" y2="1433.06" stroke="rgba(95,95,105,0.45)" stroke-width="1.2" stroke-linecap="butt" />
<line x1="1276.30" y1="1480.34" x2="1685.80" y2="1480.34" stroke="rgba(95,95,105,0.45)" stroke-width="1.2" stroke-linecap="butt" />
<line x1="1276.30" y1="1527.62" x2="1685.80" y2="1527.62" stroke="rgba(95,95,105,0.45)" stroke-width="1.2" stroke-linecap="butt" />
<rect x="1481.05" y="1293.22" width="68.25" height="47.28" fill="#E34D3D" />
<rect x="1549.30" y="1293.22" width="68.25" height="47.28" fill="#FCBBA1" />
<rect x="1617.55" y="1293.22" width="68.25" height="47.28" fill="#FC9272" />
<rect x="1344.55" y="1387.78" width="68.25" height="47.28" fill="#A12A25" />
<rect x="1412.80" y="1387.78" width="68.25" height="47.28" fill="#5C1715" />
<rect x="1276.30" y="1529.62" width="68.25" height="47.28" fill="#FCA088" />
<rect x="1344.55" y="1529.62" width="68.25" height="47.28" fill="#E34D3D" />
<rect x="1412.80" y="1529.62" width="68.25" height="47.28" fill="#EC5844" />
<rect x="1481.05" y="1529.62" width="68.25" height="47.28" fill="#B12A27" />
<rect x="1276.30" y="1104.10" width="409.50" height="472.80" fill="none" stroke="#1a1a1a" stroke-width="1.6"/>
<line x1="1270.30" y1="1127.74" x2="1276.30" y2="1127.74" stroke="#1a1a1a" stroke-width="1.6" stroke-linecap="butt" />
<line x1="1270.30" y1="1175.02" x2="1276.30" y2="1175.02" stroke="#1a1a1a" stroke-width="1.6" stroke-linecap="butt" />
<line x1="1270.30" y1="1222.30" x2="1276.30" y2="1222.30" stroke="#1a1a1a" stroke-width="1.6" stroke-linecap="butt" />
<line x1="1270.30" y1="1269.58" x2="1276.30" y2="1269.58" stroke="#1a1a1a" stroke-width="1.6" stroke-linecap="butt" />
<line x1="1270.30" y1="1316.86" x2="1276.30" y2="1316.86" stroke="#1a1a1a" stroke-width="1.6" stroke-linecap="butt" />
<line x1="1270.30" y1="1364.14" x2="1276.30" y2="1364.14" stroke="#1a1a1a" stroke-width="1.6" stroke-linecap="butt" />
<line x1="1270.30" y1="1411.42" x2="1276.30" y2="1411.42" stroke="#1a1a1a" stroke-width="1.6" stroke-linecap="butt" />
<line x1="1270.30" y1="1458.70" x2="1276.30" y2="1458.70" stroke="#1a1a1a" stroke-width="1.6" stroke-linecap="butt" />
<line x1="1270.30" y1="1505.98" x2="1276.30" y2="1505.98" stroke="#1a1a1a" stroke-width="1.6" stroke-linecap="butt" />
<line x1="1270.30" y1="1553.26" x2="1276.30" y2="1553.26" stroke="#1a1a1a" stroke-width="1.6" stroke-linecap="butt" />
<line x1="1310.42" y1="1098.10" x2="1310.42" y2="1104.10" stroke="#1a1a1a" stroke-width="1.6" stroke-linecap="butt" />
<line x1="1378.67" y1="1098.10" x2="1378.67" y2="1104.10" stroke="#1a1a1a" stroke-width="1.6" stroke-linecap="butt" />
<line x1="1446.92" y1="1098.10" x2="1446.92" y2="1104.10" stroke="#1a1a1a" stroke-width="1.6" stroke-linecap="butt" />
<line x1="1515.17" y1="1098.10" x2="1515.17" y2="1104.10" stroke="#1a1a1a" stroke-width="1.6" stroke-linecap="butt" />
<line x1="1583.42" y1="1098.10" x2="1583.42" y2="1104.10" stroke="#1a1a1a" stroke-width="1.6" stroke-linecap="butt" />
<line x1="1651.67" y1="1098.10" x2="1651.67" y2="1104.10" stroke="#1a1a1a" stroke-width="1.6" stroke-linecap="butt" />
<rect x="1701.40" y="1104.10" width="24.20" height="472.80" fill="url(#reds)" />
<rect x="1701.40" y="1104.10" width="24.20" height="472.80" fill="none" stroke="#1a1a1a" stroke-width="1.6"/>
<line x1="1725.60" y1="1576.90" x2="1731.60" y2="1576.90" stroke="#1a1a1a" stroke-width="1.6" stroke-linecap="butt" />
<text x="1738.60" y="1583.40" style="font-family:'DejaVu Sans',sans-serif;font-size:17.8px;" text-anchor="start" >0.0</text>
<line x1="1725.60" y1="1473.58" x2="1731.60" y2="1473.58" stroke="#1a1a1a" stroke-width="1.6" stroke-linecap="butt" />
<text x="1738.60" y="1480.08" style="font-family:'DejaVu Sans',sans-serif;font-size:17.8px;" text-anchor="start" >0.1</text>
<line x1="1725.60" y1="1370.26" x2="1731.60" y2="1370.26" stroke="#1a1a1a" stroke-width="1.6" stroke-linecap="butt" />
<text x="1738.60" y="1376.76" style="font-family:'DejaVu Sans',sans-serif;font-size:17.8px;" text-anchor="start" >0.2</text>
<line x1="1725.60" y1="1266.93" x2="1731.60" y2="1266.93" stroke="#1a1a1a" stroke-width="1.6" stroke-linecap="butt" />
<text x="1738.60" y="1273.43" style="font-family:'DejaVu Sans',sans-serif;font-size:17.8px;" text-anchor="start" >0.3</text>
<line x1="1725.60" y1="1163.61" x2="1731.60" y2="1163.61" stroke="#1a1a1a" stroke-width="1.6" stroke-linecap="butt" />
<text x="1738.60" y="1170.11" style="font-family:'DejaVu Sans',sans-serif;font-size:17.8px;" text-anchor="start" >0.4</text>
<text transform="translate(1794.00,1341.80) rotate(-90)" style="font-family:'DejaVu Sans',sans-serif;font-size:25px;font-style:italic" text-anchor="middle">f<tspan style="font-size:17.5px" dy="6">b</tspan></text>
<text x="1334.75" y="938.75" style="font-family:'Liberation Sans',Arial,sans-serif;stroke:#000;stroke-width:0.3px;font-size:24.8px;" text-anchor="start" >B subgenome</text>
<text x="1201.50" y="1135.14" style="font-family:'DejaVu Sans',sans-serif;font-size:24px;" text-anchor="start" >G1</text>
<text x="1201.50" y="1276.98" style="font-family:'DejaVu Sans',sans-serif;font-size:24px;" text-anchor="start" >G3</text>
<text x="1201.50" y="1324.26" style="font-family:'DejaVu Sans',sans-serif;font-size:24px;" text-anchor="start" >G2</text>
<text x="1201.50" y="1418.82" style="font-family:'DejaVu Sans',sans-serif;font-size:24px;" text-anchor="start" >G4</text>
<text x="1201.50" y="1513.38" style="font-family:'DejaVu Sans',sans-serif;font-size:24px;" text-anchor="start" >G6</text>
<text x="1201.50" y="1560.66" style="font-family:'DejaVu Sans',sans-serif;font-size:24px;" text-anchor="start" >G5</text>
<text transform="translate(1317.62,1072.40) rotate(-90)" style="font-family:'DejaVu Sans',sans-serif;font-size:24px">G1</text>
<text transform="translate(1385.88,1072.40) rotate(-90)" style="font-family:'DejaVu Sans',sans-serif;font-size:24px">G3</text>
<text transform="translate(1454.12,1072.40) rotate(-90)" style="font-family:'DejaVu Sans',sans-serif;font-size:24px">G2</text>
<text transform="translate(1522.38,1072.40) rotate(-90)" style="font-family:'DejaVu Sans',sans-serif;font-size:24px">G4</text>
<text transform="translate(1590.62,1072.40) rotate(-90)" style="font-family:'DejaVu Sans',sans-serif;font-size:24px">G6</text>
<text transform="translate(1658.88,1072.40) rotate(-90)" style="font-family:'DejaVu Sans',sans-serif;font-size:24px">G5</text>
<polyline points="1061.60,1104.10 1061.60,1175.02 1094.70,1175.02" fill="none" stroke="#000" stroke-width="2.1" stroke-linejoin="miter" stroke-linecap="butt" />
<polyline points="1061.60,1127.74 1191.70,1127.74" fill="none" stroke="#000" stroke-width="2.1" stroke-linejoin="miter" stroke-linecap="butt" />
<polyline points="1094.70,1175.02 1094.70,1364.14 1126.60,1364.14" fill="none" stroke="#000" stroke-width="2.1" stroke-linejoin="miter" stroke-linecap="butt" />
<polyline points="1094.70,1222.30 1126.60,1222.30" fill="none" stroke="#000" stroke-width="2.1" stroke-linejoin="miter" stroke-linecap="butt" />
<polyline points="1126.60,1222.30 1126.60,1316.86 1191.70,1316.86" fill="none" stroke="#000" stroke-width="2.1" stroke-linejoin="miter" stroke-linecap="butt" />
<polyline points="1126.60,1269.58 1191.70,1269.58" fill="none" stroke="#000" stroke-width="2.1" stroke-linejoin="miter" stroke-linecap="butt" />
<polyline points="1126.60,1364.14 1126.60,1458.70 1159.40,1458.70" fill="none" stroke="#000" stroke-width="2.1" stroke-linejoin="miter" stroke-linecap="butt" />
<polyline points="1126.60,1411.42 1191.70,1411.42" fill="none" stroke="#000" stroke-width="2.1" stroke-linejoin="miter" stroke-linecap="butt" />
<polyline points="1159.40,1458.70 1159.40,1553.26 1191.70,1553.26" fill="none" stroke="#000" stroke-width="2.1" stroke-linejoin="miter" stroke-linecap="butt" />
<polyline points="1159.40,1505.98 1191.70,1505.98" fill="none" stroke="#000" stroke-width="2.1" stroke-linejoin="miter" stroke-linecap="butt" />
<line x1="1096.00" y1="1175.02" x2="1230.70" y2="1175.02" stroke="#4E7590" stroke-width="2.2" stroke-linecap="butt" stroke-dasharray="2.2 5"/>
<line x1="1128.00" y1="1222.30" x2="1230.70" y2="1222.30" stroke="#4E7590" stroke-width="2.2" stroke-linecap="butt" stroke-dasharray="2.2 5"/>
<line x1="1128.00" y1="1364.14" x2="1230.70" y2="1364.14" stroke="#4E7590" stroke-width="2.2" stroke-linecap="butt" stroke-dasharray="2.2 5"/>
<line x1="1161.00" y1="1458.70" x2="1229.00" y2="1458.70" stroke="#4E7590" stroke-width="2.2" stroke-linecap="butt" stroke-dasharray="2.2 5"/>
<polyline points="1310.42,1023.40 1310.42,969.40 1490.00,969.40 1490.00,983.20" fill="none" stroke="#000" stroke-width="2.1" stroke-linejoin="miter" stroke-linecap="butt" />
<polyline points="1413.50,983.20 1566.40,983.20" fill="none" stroke="#000" stroke-width="2.1" stroke-linejoin="miter" stroke-linecap="butt" />
<polyline points="1413.50,983.20 1413.50,996.90" fill="none" stroke="#000" stroke-width="2.1" stroke-linejoin="miter" stroke-linecap="butt" />
<polyline points="1378.67,1023.40 1378.67,996.90 1446.92,996.90 1446.92,1023.40" fill="none" stroke="#000" stroke-width="2.1" stroke-linejoin="miter" stroke-linecap="butt" />
<polyline points="1566.40,983.20 1566.40,996.90" fill="none" stroke="#000" stroke-width="2.1" stroke-linejoin="miter" stroke-linecap="butt" />
<polyline points="1515.17,1023.40 1515.17,996.90 1617.90,996.90 1617.90,1010.90" fill="none" stroke="#000" stroke-width="2.1" stroke-linejoin="miter" stroke-linecap="butt" />
<polyline points="1583.42,1023.40 1583.42,1010.90 1651.67,1010.90 1651.67,1023.40" fill="none" stroke="#000" stroke-width="2.1" stroke-linejoin="miter" stroke-linecap="butt" />
<line x1="288.30" y1="1768.40" x2="288.30" y2="2593.00" stroke="#000" stroke-width="3.3" stroke-linecap="butt" />
<line x1="286.70" y1="2591.30" x2="1598.50" y2="2591.30" stroke="#000" stroke-width="3.4" stroke-linecap="butt" />
<line x1="275.50" y1="1804.60" x2="288.30" y2="1804.60" stroke="#7f7f7f" stroke-width="3.3" stroke-linecap="butt" />
<text x="234.70" y="1816.00" style="font-family:'Liberation Sans',Arial,sans-serif;stroke:#000;stroke-width:0.3px;font-size:25px;" text-anchor="end" >1.00</text>
<line x1="275.50" y1="1992.10" x2="288.30" y2="1992.10" stroke="#7f7f7f" stroke-width="3.3" stroke-linecap="butt" />
<text x="234.70" y="2003.50" style="font-family:'Liberation Sans',Arial,sans-serif;stroke:#000;stroke-width:0.3px;font-size:25px;" text-anchor="end" >0.75</text>
<line x1="275.50" y1="2179.60" x2="288.30" y2="2179.60" stroke="#7f7f7f" stroke-width="3.3" stroke-linecap="butt" />
<text x="234.70" y="2191.00" style="font-family:'Liberation Sans',Arial,sans-serif;stroke:#000;stroke-width:0.3px;font-size:25px;" text-anchor="end" >0.50</text>
<line x1="275.50" y1="2367.10" x2="288.30" y2="2367.10" stroke="#7f7f7f" stroke-width="3.3" stroke-linecap="butt" />
<text x="234.70" y="2378.50" style="font-family:'Liberation Sans',Arial,sans-serif;stroke:#000;stroke-width:0.3px;font-size:25px;" text-anchor="end" >0.25</text>
<line x1="275.50" y1="2554.60" x2="288.30" y2="2554.60" stroke="#7f7f7f" stroke-width="3.3" stroke-linecap="butt" />
<text x="234.70" y="2566.00" style="font-family:'Liberation Sans',Arial,sans-serif;stroke:#000;stroke-width:0.3px;font-size:25px;" text-anchor="end" >0.00</text>
<line x1="645.50" y1="2593.00" x2="645.50" y2="2604.30" stroke="#7f7f7f" stroke-width="3.3" stroke-linecap="butt" />
<text x="643.00" y="2643.40" style="font-family:'Liberation Sans',Arial,sans-serif;stroke:#000;stroke-width:0.3px;font-size:25px;" text-anchor="middle" >A subgenome</text>
<text x="645.50" y="2686.60" style="font-family:'Liberation Sans',Arial,sans-serif;stroke:#000;stroke-width:0.3px;font-size:25px;" text-anchor="middle" >(n = 993)</text>
<line x1="1241.00" y1="2593.00" x2="1241.00" y2="2604.30" stroke="#7f7f7f" stroke-width="3.3" stroke-linecap="butt" />
<text x="1241.00" y="2643.40" style="font-family:'Liberation Sans',Arial,sans-serif;stroke:#000;stroke-width:0.3px;font-size:25px;" text-anchor="middle" >B subgenome</text>
<text x="1241.00" y="2686.60" style="font-family:'Liberation Sans',Arial,sans-serif;stroke:#000;stroke-width:0.3px;font-size:25px;" text-anchor="middle" >(n = 1,365)</text>
<text transform="translate(138.4,2173) rotate(-90)" style="font-family:'Liberation Sans',Arial,sans-serif;stroke:#000;stroke-width:0.3px;font-size:24.5px;font-style:italic" text-anchor="middle">fd</text>
<line x1="645.50" y1="1805.90" x2="645.50" y2="2090.80" stroke="#2E2E2E" stroke-width="3.0" stroke-linecap="butt" />
<line x1="645.50" y1="2518.75" x2="645.50" y2="2554.00" stroke="#2E2E2E" stroke-width="3.0" stroke-linecap="butt" />
<line x1="1240.75" y1="1805.90" x2="1240.75" y2="1979.00" stroke="#2E2E2E" stroke-width="3.0" stroke-linecap="butt" />
<line x1="1240.75" y1="2452.90" x2="1240.75" y2="2553.30" stroke="#2E2E2E" stroke-width="3.0" stroke-linecap="butt" />
<rect x="422.3" y="2090.8" width="446.45" height="427.95" fill="#F8807A" stroke="#2E2E2E" stroke-width="3.6"/>
<line x1="422.30" y1="2389.60" x2="868.75" y2="2389.60" stroke="#2E2E2E" stroke-width="6.6" stroke-linecap="butt" />
<rect x="1017.5" y="1979" width="446.5" height="473.9" fill="#5EC8CB" stroke="#2E2E2E" stroke-width="3.6"/>
<line x1="1017.50" y1="2240.80" x2="1464.00" y2="2240.80" stroke="#2E2E2E" stroke-width="7.2" stroke-linecap="butt" />
<polyline points="645.40,1790.70 645.40,1765.50 1239.80,1765.50 1239.80,1790.70" fill="none" stroke="#000" stroke-width="3.4" stroke-linejoin="miter" stroke-linecap="butt" />
<text x="860" y="1748.2" style="font-family:'Liberation Sans',Arial,sans-serif;stroke:#000;stroke-width:0.3px;font-size:25.5px"><tspan style="font-style:italic">p</tspan> = 7.4 x 10<tspan style="font-size:17.5px" dx="4" dy="-13.8">-15</tspan></text>
<rect x="1580.80" y="2158.80" width="61.50" height="61.80" fill="#F2F2F2" />
<rect x="1580.80" y="2226.10" width="61.50" height="61.60" fill="#F2F2F2" />
<line x1="1611.70" y1="2162.10" x2="1611.70" y2="2172.10" stroke="#2E2E2E" stroke-width="3.4" stroke-linecap="round" />
<line x1="1611.70" y1="2208.10" x2="1611.70" y2="2217.20" stroke="#2E2E2E" stroke-width="3.4" stroke-linecap="round" />
<rect x="1586.8" y="2172.10" width="49.8" height="36.00" fill="#F8807A" stroke="#2E2E2E" stroke-width="3.4" rx="1"/>
<line x1="1586.80" y1="2190.00" x2="1636.60" y2="2190.00" stroke="#2E2E2E" stroke-width="3.4" stroke-linecap="butt" />
<line x1="1611.70" y1="2229.50" x2="1611.70" y2="2239.40" stroke="#2E2E2E" stroke-width="3.4" stroke-linecap="round" />
<line x1="1611.70" y1="2274.60" x2="1611.70" y2="2284.60" stroke="#2E2E2E" stroke-width="3.4" stroke-linecap="round" />
<rect x="1586.8" y="2239.40" width="49.8" height="35.20" fill="#5EC8CB" stroke="#2E2E2E" stroke-width="3.4" rx="1"/>
<line x1="1586.80" y1="2256.70" x2="1636.60" y2="2256.70" stroke="#2E2E2E" stroke-width="3.4" stroke-linecap="butt" />
<text x="1654.00" y="2204.20" style="font-family:'Liberation Sans',Arial,sans-serif;stroke:#000;stroke-width:0.3px;font-size:25px;" text-anchor="start" >A subgenome</text>
<text x="1654.50" y="2270.80" style="font-family:'Liberation Sans',Arial,sans-serif;stroke:#000;stroke-width:0.3px;font-size:25px;" text-anchor="start" >B subgenome</text>
</svg></body></html>
